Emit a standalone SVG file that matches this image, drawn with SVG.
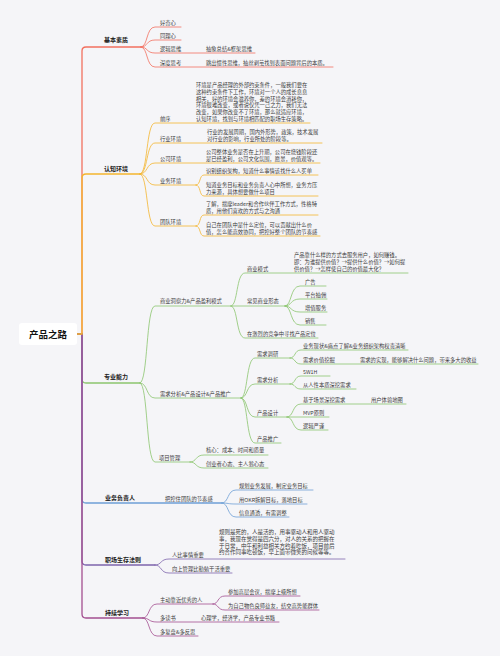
<svg xmlns="http://www.w3.org/2000/svg" width="500" height="656" viewBox="0 0 500 656">
<style>
text{font-family:"Noto Sans CJK SC","Noto Sans",sans-serif;font-size:5.3px;fill:#3a3a3a}
.m{font-size:6px;font-weight:bold;fill:#222}
.r{font-size:9.5px;font-weight:bold;fill:#111;text-anchor:middle}
.p{font-size:5.5px}
path{fill:none;stroke-linecap:round}
.w{stroke-width:1.3}
.s{stroke-width:0.8}
.R{stroke:#f2705f}.Y{stroke:#f4b52e}.G{stroke:#8cc56e}.B{stroke:#6e9fd6}.P{stroke:#7d64ac}.M{stroke:#a34f90}
</style>
<rect width="500" height="656" fill="#f5f5f8"/>
<g id="connectors">
<g class="R">
<path class="w" d="M77,334 H82 V51 Q82,47 86,47 H141"/>
<path class="s" d="M141,47 C148,47 146,27 155,27 H181"/>
<path class="s" d="M141,47 C148,47 146,40 155,40 H181"/>
<path class="s" d="M141,47 C148,47 146,53 155,53 H255"/>
<path class="s" d="M141,47 C148,47 146,67 155,67 H333"/>
</g>
<g class="G">
<path class="w" d="M77,334 H82 V379 Q82,383 86,383 H140"/>
<path class="s" d="M140,383 C148,383 146,306 155,306 H231"/>
<path class="s" d="M140,383 C148,383 146,398 155,398 H241"/>
<path class="s" d="M140,383 C148,383 146,462 155,462 H190"/>
<path class="s" d="M231,306 C238,306 236,273 245,273 H408"/>
<path class="s" d="M231,306 H285"/>
<path class="s" d="M231,306 C238,306 236,338 245,338 H318"/>
<path class="s" d="M285,306 C292,306 290,286 300,286 H326"/>
<path class="s" d="M285,306 C292,306 290,299 300,299 H327"/>
<path class="s" d="M285,306 C292,306 290,312 300,312 H327"/>
<path class="s" d="M285,306 C292,306 290,325 300,325 H326"/>
<path class="s" d="M241,398 C248,398 246,358 255,358 H290"/>
<path class="s" d="M241,398 C248,398 246,384 255,384 H290"/>
<path class="s" d="M241,398 C248,398 246,417 255,417 H287"/>
<path class="s" d="M241,398 C248,398 246,443 255,443 H281"/>
<path class="s" d="M290,358 C296,358 294,350 301,350 H408"/>
<path class="s" d="M290,358 C296,358 294,364 301,364 H478"/>
<path class="s" d="M290,384 C296,384 294,376 301,376 H330"/>
<path class="s" d="M290,384 C296,384 294,389 301,389 H356"/>
<path class="s" d="M287,417 C294,417 292,404 301,404 H406"/>
<path class="s" d="M287,417 H329"/>
<path class="s" d="M287,417 C294,417 292,430 301,430 H328"/>
<path class="s" d="M190,462 C197,462 195,455 204,455 H268"/>
<path class="s" d="M190,462 C197,462 195,468 204,468 H268"/>
</g>
<g class="B">
<path class="w" d="M77,334 H82 V499 Q82,503 86,503 H222"/>
<path class="s" d="M222,503 C229,503 227,490 236,490 H313"/>
<path class="s" d="M222,503 C229,503 227,504 236,504 H307"/>
<path class="s" d="M222,503 C229,503 227,517 236,517 H289"/>
</g>
<g class="P">
<path class="w" d="M77,334 H82 V561 Q82,565 86,565 H155"/>
<path class="s" d="M155,565 C162,565 160,559 169,559 H345"/>
<path class="s" d="M155,565 C162,565 160,573 169,573 H232"/>
</g>
<g class="M">
<path class="w" d="M77,334 H82 V614 Q82,618 86,618 H143"/>
<path class="s" d="M143,618 C150,618 148,604 157,604 H213"/>
<path class="s" d="M143,618 C150,618 148,622 157,622 H279"/>
<path class="s" d="M143,618 C150,618 148,636 157,636 H198"/>
<path class="s" d="M213,604 C219,604 217,596 225,596 H300"/>
<path class="s" d="M213,604 C219,604 217,610 225,610 H319"/>
</g>
<g class="Y">
<path class="w" d="M77,334 H82 V178 Q82,174 86,174 H140"/>
<path class="s" d="M140,174 C148,174 146,123 155,123 H310"/>
<path class="s" d="M140,174 C148,174 146,143 155,143 H322"/>
<path class="s" d="M140,174 C148,174 146,163 155,163 H320"/>
<path class="s" d="M140,174 C148,174 146,185 155,185 H196"/>
<path class="s" d="M140,174 C148,174 146,226 155,226 H196"/>
<path class="s" d="M196,185 C201,185 199,175 204,175 H318"/>
<path class="s" d="M196,185 C201,185 199,196 204,196 H318"/>
<path class="s" d="M196,226 C201,226 199,215 204,215 H318"/>
<path class="s" d="M196,226 C201,226 199,236 204,236 H320"/>
</g>
</g>
<g id="root">
<rect x="19" y="323" width="58" height="22" rx="3" fill="#ffffff"/>
<text class="r" x="48" y="337.5">产品之路</text>
</g>
<g id="jibensuzhi">
<text class="m" x="104" y="42">基本素质</text>
<text x="160" y="25">好奇心</text>
<text x="160" y="38">同理心</text>
<text x="160" y="51">逻辑思维</text>
<text x="206" y="51">抽象总结&amp;框架思维</text>
<text x="160" y="64.5">深度思考</text>
<text x="206" y="64.5">跳出惯性思维，抽丝剥茧找到表面问题背后的本质。</text>
</g>
<g id="renzhihuanjing">
<text class="m" x="104" y="170.5">认知环境</text>
<text x="160" y="121">前序</text>
<text x="196" y="87">环境是产品经理的外部约束条件，一般我们要在</text>
<text x="196" y="93.8">这种约束条件下工作，环境对一个人的成长息息</text>
<text x="196" y="100.6">相关，好的环境会滋养你，差的环境会消耗你，</text>
<text x="196" y="107.4">环境很难改变，或者说仅凭一己之力，我们无法</text>
<text x="196" y="114.2">改变，如果你改变不了环境，那么就适应环境，</text>
<text x="196" y="121">认知环境，找到与环境相匹配的职场生存策略。</text>
<text x="160" y="141">行业环境</text>
<text x="207" y="134">行业的发展周期，国内外形势，政策，技术发展</text>
<text x="207" y="141">对行业的影响，行业所处的阶段等。</text>
<text x="160" y="160.5">公司环境</text>
<text x="206" y="153.5">公司整体业务是否在上升期，公司在烧钱阶段还</text>
<text x="206" y="160.5">是已经盈利，公司文化氛围，愿景，价值观等。</text>
<text x="160" y="183">业务环境</text>
<text x="206" y="173">识别组织架构，知道什么事情该找什么人买单</text>
<text x="206" y="187">知道业务目标和业务负责人心中所想，业务方压</text>
<text x="206" y="194">力来源，具体想要做什么项目</text>
<text x="160" y="224">团队环境</text>
<text x="206" y="206">了解，揣摩leader和合作伙伴工作方式，性格特</text>
<text x="206" y="213">质，用他们喜欢的方式与之沟通</text>
<text x="206" y="227">自己在团队中是什么定位，可以贡献出什么价</text>
<text x="206" y="234">值，怎么能高效协同，把控好整个团队的节奏感</text>
</g>
<g id="zhuanyenengli">
<text class="m" x="104" y="378.5">专业能力</text>
<text x="160" y="302.5">商业洞察力&amp;产品盈利模式</text>
<text x="247" y="270.5">商业模式</text>
<text x="294" y="256.5">产品靠什么样的方式去服务用户，如何赚钱。</text>
<text x="294" y="263.5">即：为谁提供价值？→提供什么价值？→如何提</text>
<text x="294" y="270.5">供价值？→怎样使自己的价值最大化？</text>
<text x="247" y="302.5">常见商业形态</text>
<text x="305" y="283.5">广告</text>
<text x="305" y="296.5">平台抽佣</text>
<text x="305" y="309.5">增值服务</text>
<text x="305" y="322.5">销售</text>
<text x="247" y="335.5">在激烈的竞争中寻找产品定位</text>
<text x="160" y="395.5">需求分析&amp;产品设计&amp;产品推广</text>
<text x="257" y="355.5">需求调研</text>
<text x="303" y="348">业务现状&amp;痛点了解&amp;业务组织架构权责清晰</text>
<text x="303" y="361.5">需求价值挖掘</text>
<text x="360" y="361.5">需求的实现，能够解决什么问题，带来多大的收益</text>
<text x="257" y="381.5">需求分析</text>
<text x="303" y="374">5W1H</text>
<text x="303" y="387">从人性本质深挖需求</text>
<text x="257" y="414.5">产品设计</text>
<text x="303" y="401.5">基于场景深挖需求</text>
<text x="371" y="401.5">用户体验地图</text>
<text x="303" y="414.5">MVP原则</text>
<text x="303" y="427.5">逻辑严谨</text>
<text x="257" y="440.5">产品推广</text>
<text x="159" y="459.5">项目管理</text>
<text x="206" y="452">核心：成本、时间和质量</text>
<text x="206" y="466">创业者心态、主人翁心态</text>
</g>
<g id="yewufuzeren">
<text class="m" x="105" y="499.5">业务负责人</text>
<text x="165" y="501">把控住团队的节奏感</text>
<text x="239" y="488">规划业务发展，制定业务目标</text>
<text x="239" y="502">用OKR拆解目标，落地目标</text>
<text x="239" y="515">信息通透，有需调整</text>
</g>
<g id="zhichangshengcun">
<text class="m" x="105" y="561.5">职场生存法则</text>
<text x="172" y="557">人比事情重要</text>
<text class="p" x="219" y="534">规则是死的，人是活的，用事驱动人和用人驱动</text>
<text class="p" x="219" y="540.8">事，我现在觉得是四六分，对人的关系的把握在</text>
<text class="p" x="219" y="547.6">于日常，中午和利益相关方约着吃饭，项目前后</text>
<text class="p" x="219" y="554.4">约合作同事吃顿饭，早上面带微笑的问候等等。</text>
<text x="172" y="570.5">向上管理比勤勉干活重要</text>
</g>
<g id="chixuxuexi">
<text class="m" x="105" y="614.5">持续学习</text>
<text x="160" y="601.5">主动靠近优秀的人</text>
<text x="228" y="594">参加高层会议，揣摩上级所想</text>
<text x="228" y="608">为自己物色良师益友，结交高势能群体</text>
<text x="160" y="620">多读书</text>
<text x="201" y="620">心理学，经济学，产品专业书籍</text>
<text x="160" y="634">多复盘&amp;多反思</text>
</g>
</svg>
